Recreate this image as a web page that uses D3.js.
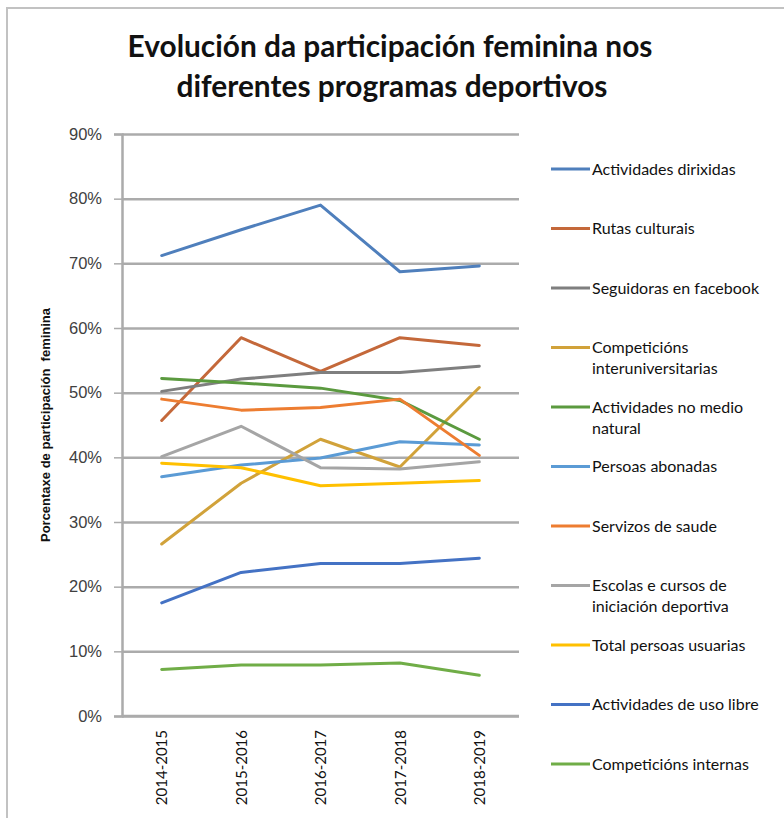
<!DOCTYPE html>
<html>
<head>
<meta charset="utf-8">
<script src="https://cdn.jsdelivr.net/npm/d3@7"></script>
<style>
  body { margin: 0; background: #fff; }
  svg { display: block; }
</style>
</head>
<body>
<div id="chart"></div>
<script>
// categories (school years)
const categories = ["2014-2015", "2015-2016", "2016-2017", "2017-2018", "2018-2019"];

// series values (share of women)
const actividadesDirixidas = [0.712, 0.752, 0.790, 0.687, 0.696];
const rutasCulturais = [0.457, 0.585, 0.533, 0.585, 0.573];
const seguidorasFacebook = [0.502, 0.521, 0.531, 0.531, 0.541];
const competicionsInteruniv = [0.266, 0.360, 0.428, 0.385, 0.508];
const actividadesMedioNatural = [0.522, 0.515, 0.507, 0.488, 0.428];
const persoasAbonadas = [0.370, 0.388, 0.399, 0.424, 0.419];
const servizosSaude = [0.490, 0.473, 0.477, 0.490, 0.403];
const escolasCursos = [0.401, 0.448, 0.384, 0.382, 0.393];
const totalUsuarias = [0.391, 0.384, 0.356, 0.360, 0.364];
const actividadesUsoLibre = [0.175, 0.222, 0.236, 0.236, 0.244];
const competicionsInternas = [0.072, 0.079, 0.079, 0.082, 0.063];

const seriesNames = [
  "Actividades dirixidas",
  "Rutas culturais",
  "Seguidoras en facebook",
  "Competicións\ninteruniversitarias",
  "Actividades no medio\nnatural",
  "Persoas abonadas",
  "Servizos de saude",
  "Escolas e cursos de\niniciación deportiva",
  "Total persoas usuarias",
  "Actividades de uso libre",
  "Competicións internas"
];
const seriesValues = [
  actividadesDirixidas, rutasCulturais, seguidorasFacebook, competicionsInteruniv,
  actividadesMedioNatural, persoasAbonadas, servizosSaude, escolasCursos,
  totalUsuarias, actividadesUsoLibre, competicionsInternas
];
const seriesColors = [
  "#4f7fbc", "#c4683a", "#7f7f7f", "#d1a23a", "#5b9a3f", "#5b9bd5",
  "#ed7d31", "#a5a5a5", "#ffc000", "#4472c4", "#70ad47"
];

const titleLines = ["Evolución da participación feminina nos", "diferentes programas deportivos"];
const yTitle = "Porcentaxe de participación  feminina";

const width = 784, height = 818;
const plot = {left: 122, right: 519, top: 134, bottom: 716};

const svg = d3.select("#chart")
  .append("svg")
  .attr("width", width)
  .attr("height", height);

// outer frame (only top and left visible)
svg.append("path")
  .attr("d", `M7,${height} L7,8 L${width},8`)
  .attr("fill", "none")
  .attr("stroke", "#c2c2c2")
  .attr("stroke-width", 2);

// title
const title = svg.append("g")
  .attr("font-family", "Lato, 'Open Sans', sans-serif")
  .attr("font-weight", "bold")
  .attr("fill", "#111")
  .attr("text-anchor", "middle");
const t1 = title.append("text")
  .attr("x", 390).attr("y", 57)
  .attr("font-size", 30)
  .text(titleLines[0]);
// fit font size to the reference title width
const fit = 30 * 525 / t1.node().getComputedTextLength();
t1.attr("font-size", fit);
title.append("text")
  .attr("x", 392).attr("y", 97)
  .attr("font-size", fit)
  .text(titleLines[1]);

// scales
const x = d3.scalePoint()
  .domain(categories)
  .range([plot.left, plot.right])
  .padding(0.5);
const y = d3.scaleLinear()
  .domain([0, 0.9])
  .range([plot.bottom, plot.top]);

const yTicks = d3.range(0, 10).map(d => d / 10);

// gridlines
svg.append("g")
  .attr("transform", `translate(${plot.left},0)`)
  .call(d3.axisLeft(y).tickValues(yTicks).tickSize(-(plot.right - plot.left)).tickFormat(""))
  .call(g => g.select(".domain").remove())
  .call(g => g.selectAll("line").attr("stroke", "#ababab").attr("stroke-width", 2.5));

// y axis with outer ticks and labels
svg.append("g")
  .attr("transform", `translate(${plot.left},0)`)
  .call(d3.axisLeft(y).tickValues(yTicks).tickSize(8).tickPadding(12).tickFormat(d3.format(".0%")))
  .call(g => g.select(".domain").attr("stroke", "#ababab").attr("stroke-width", 2.5))
  .call(g => g.selectAll("line").attr("stroke", "#ababab").attr("stroke-width", 1.5))
  .call(g => g.selectAll("text")
    .attr("font-family", "'Liberation Sans', Arial, sans-serif")
    .attr("font-size", 16.5)
    .attr("fill", "#404040"));

// x axis
svg.append("g")
  .attr("transform", `translate(0,${plot.bottom})`)
  .call(d3.axisBottom(x).tickSize(0).tickPadding(0))
  .call(g => g.select(".domain").attr("stroke", "#ababab").attr("stroke-width", 2.5)
    .attr("d", `M${plot.left},0H${plot.right}`))
  .call(g => g.selectAll(".tick text")
    .attr("font-family", "Lato, 'Open Sans', sans-serif")
    .attr("font-size", 15)
    .attr("fill", "#111")
    .attr("text-anchor", "end")
    .attr("transform", "rotate(-90)")
    .attr("x", -14)
    .attr("y", 0)
    .attr("dy", "0.35em"));

// y axis title
svg.append("text")
  .attr("transform", `translate(50,${(plot.top + plot.bottom) / 2}) rotate(-90)`)
  .attr("text-anchor", "middle")
  .attr("font-family", "'Liberation Sans', Arial, sans-serif")
  .attr("font-weight", "bold")
  .attr("font-size", 13)
  .attr("fill", "#111")
  .attr("xml:space", "preserve")
  .text(yTitle);

// lines
const line = d3.line()
  .x((d, i) => x(categories[i]))
  .y(d => y(d));

svg.append("g")
  .selectAll("path")
  .data(seriesValues)
  .join("path")
    .attr("d", d => line(d))
    .attr("fill", "none")
    .attr("stroke", (d, i) => seriesColors[i])
    .attr("stroke-width", 3)
    .attr("stroke-linejoin", "round")
    .attr("stroke-linecap", "round");

// legend
const legend = svg.append("g")
  .selectAll("g")
  .data(seriesNames)
  .join("g")
    .attr("transform", (d, i) => `translate(551,${169 + i * 59.5})`);

legend.append("line")
  .attr("x1", 0).attr("x2", 39)
  .attr("stroke", (d, i) => seriesColors[i])
  .attr("stroke-width", 3);

legend.append("text")
  .attr("x", 41)
  .attr("font-family", "Lato, 'Open Sans', sans-serif")
  .attr("font-size", 16)
  .attr("fill", "#111")
  .selectAll("tspan")
  .data(d => d.split("\n"))
  .join("tspan")
    .attr("x", 41)
    .attr("y", (d, i) => i * 21)
    .attr("dy", "0.35em")
    .text(d => d);
</script>
</body>
</html>
